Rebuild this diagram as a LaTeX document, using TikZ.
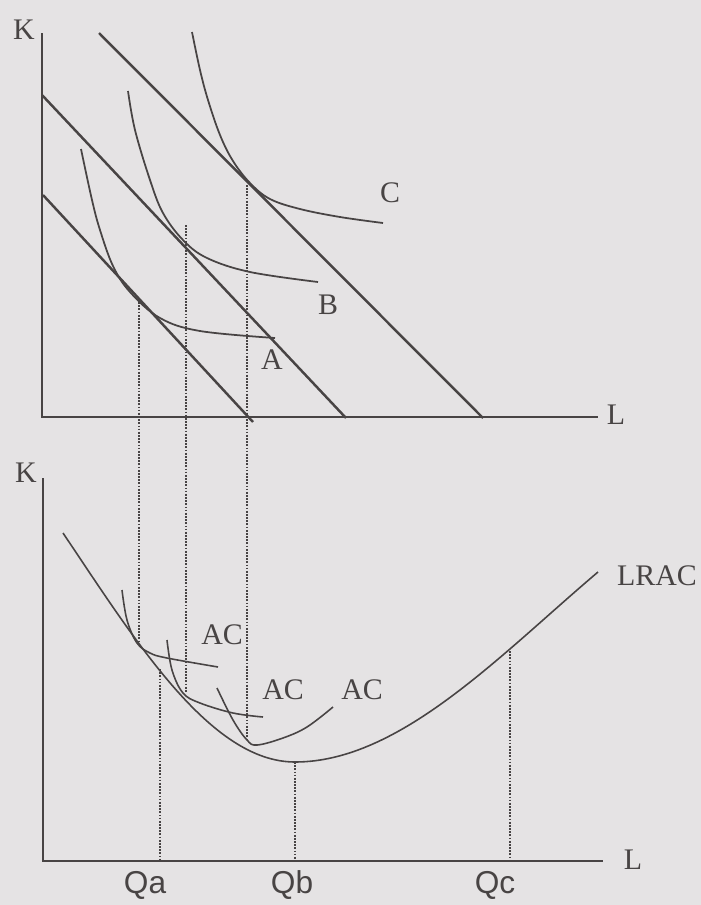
\documentclass[tikz,border=0pt]{standalone}
\usepackage{fontspec}
\setmainfont{Liberation Serif}
\newfontfamily\qfont{Liberation Sans}
\usetikzlibrary{positioning}

\definecolor{paper}{RGB}{229,227,228}
\definecolor{ink}{RGB}{72,68,68}

\begin{document}
\begin{tikzpicture}[
    x=0.1mm, y=-0.1mm,
    font=\fontsize{8.5}{10}\selectfont,
    axis/.style={ink, line width=0.6pt},
    budget/.style={ink, line width=0.7pt},
    quant/.style={ink, line width=0.5pt, smooth, tension=0.6},
    cost/.style={ink, line width=0.45pt, smooth, tension=0.6},
    guide/.style={ink, line width=0.4pt, dash pattern=on 0.5pt off 0.4pt},
    lbl/.style={text=ink, inner sep=0pt},
    qlbl/.style={lbl, font=\qfont\fontsize{9}{11}\selectfont},
  ]
  \path[use as bounding box, fill=paper] (0,0) rectangle (701,905);

  % --- TOP: isoquants and isocost lines ---
  \coordinate (o1) at (42,417);
  \coordinate (k1top) at (42,33);
  \coordinate (l1end) at (598,417);
  \draw[axis] (k1top) -- (o1) -- (l1end);
  \node[lbl] (k1) at (24,30) {K};
  \node[lbl] (l1) at (616,415) {L};

  \draw[budget] (43,195) -- (253,422);
  \draw[budget] (42,95) -- (346,418);
  \draw[budget] (99,33) -- (483,418);

  \draw[quant] plot coordinates {(81,149) (92,200) (100,230) (113,266) (130,292)
    (160,318) (200,331) (275,338)};
  \draw[quant] plot coordinates {(128,91) (135,130) (150,180) (163,213) (183,240)
    (207,258) (250,272) (318,282)};
  \draw[quant] plot coordinates {(192,32) (200,70) (208,100) (220,135) (233,161)
    (250,183) (270,199) (300,209) (340,217) (383,223)};
  \node[lbl] (isoA) at (272,360) {A};
  \node[lbl] (isoB) at (328,305) {B};
  \node[lbl] (isoC) at (390,193) {C};

  % --- guides from the tangencies down to the cost curves ---
  \draw[guide] (139,299) -- (139,643);
  \draw[guide] (186,225) -- (186,693);
  \draw[guide] (247,185) -- (247,740);

  % --- BOTTOM: short-run AC and LRAC ---
  \coordinate (o2) at (43,861);
  \coordinate (k2top) at (43,478);
  \coordinate (l2end) at (603,861);
  \draw[axis] (k2top) -- (o2) -- (l2end);
  \node[lbl] (k2) at (26,473) {K};
  \node[lbl] (l2) at (633,860) {L};

  \coordinate (lrmin) at (295,762);
  \draw[cost] (63,533) .. controls (135,640) and (210,762) .. (lrmin)
    .. controls (400,762) and (500,655) .. (598,572);
  \node[lbl] (lrac) at (657,576) {LRAC};

  \draw[cost] plot coordinates {(122,590) (127,620) (137,643) (150,653) (167,658) (218,667)};
  \draw[cost] plot coordinates {(167,640) (172,670) (183,693) (200,703) (233,713) (263,717)};
  \draw[cost] plot coordinates {(217,688) (233,720) (247,740) (257,745) (283,738)
    (307,727) (333,707)};
  \node[lbl] (ac1) at (222,635) {AC};
  \node[lbl] (ac2) at (283,690) {AC};
  \node[lbl] (ac3) at (362,690) {AC};

  \draw[guide] (160,669) -- (160,861);
  \draw[guide] (lrmin) -- (295,861);
  \draw[guide] (510,651) -- (510,861);
  \node[qlbl] (qa) at (145,885) {Qa};
  \node[qlbl] (qb) at (292,885) {Qb};
  \node[qlbl] (qc) at (495,885) {Qc};
\end{tikzpicture}
\end{document}
